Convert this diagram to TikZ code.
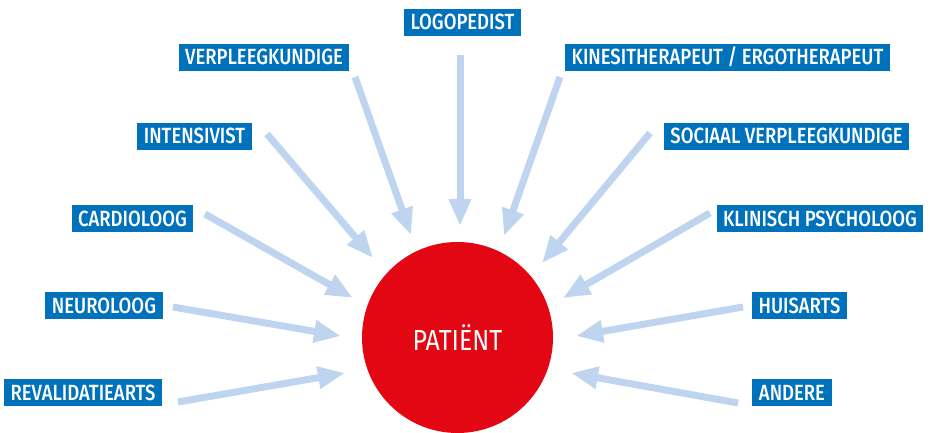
\documentclass[tikz,border=0pt]{standalone}
\usepackage{fontspec}
\setmainfont[FakeStretch=0.84]{Fira Sans Medium}
\newfontfamily\patfont[FakeStretch=0.86]{Fira Sans}
\usetikzlibrary{arrows.meta}
\definecolor{boxblue}{RGB}{0,114,188}
\definecolor{arrowblue}{RGB}{190,212,239}
\definecolor{patred}{RGB}{227,6,19}
\tikzset{
  lbl/.style={fill=boxblue, text=white, font=\fontsize{22}{24}\selectfont,
    inner xsep=6.5pt, inner ysep=0pt, minimum height=27pt, text height=15pt, text depth=0pt},
  conn/.style={draw=arrowblue, line width=7pt, -{Triangle[width=21pt,length=27pt]}}
}
\begin{document}
\begin{tikzpicture}[x=1pt,y=-1pt]
\useasboundingbox (0,0) rectangle (930,433);
\node[circle, fill=patred, minimum size=191pt, inner sep=0pt, text=white,
  font=\patfont\fontsize{29}{31}\selectfont] (pat) at (457.5,337.5) {PATIËNT};

\node[lbl] (logo) at (462.5,22.5) {LOGOPEDIST};
\node[lbl] (verp) at (264,57.5) {VERPLEEGKUNDIGE};
\node[lbl] (kine) at (727.5,57.5) {KINESITHERAPEUT / ERGOTHERAPEUT};
\node[lbl] (inte) at (194.5,136.5) {INTENSIVIST};
\node[lbl] (soci) at (786.5,136.5) {SOCIAAL VERPLEEGKUNDIGE};
\node[lbl] (card) at (132.5,218.5) {CARDIOLOOG};
\node[lbl] (klin) at (820,218.5) {KLINISCH PSYCHOLOOG};
\node[lbl] (neur) at (104,305.5) {NEUROLOOG};
\node[lbl] (huis) at (799.5,305.5) {HUISARTS};
\node[lbl] (reva) at (83,392.5) {REVALIDATIEARTS};
\node[lbl] (ande) at (792,392.5) {ANDERE};

\coordinate (logoS) at (460,55);  \coordinate (logoE) at (460,226);
\coordinate (verpS) at (355,77);  \coordinate (verpE) at (411,235);
\coordinate (kineS) at (560,77);  \coordinate (kineE) at (504,236);
\coordinate (inteS) at (267,134); \coordinate (inteE) at (373,258);
\coordinate (sociS) at (650,133); \coordinate (sociE) at (542,263);
\coordinate (cardS) at (205,214); \coordinate (cardE) at (353,298);
\coordinate (klinS) at (710,213); \coordinate (klinE) at (563,298);
\coordinate (neurS) at (173,307); \coordinate (neurE) at (341,336);
\coordinate (huisS) at (743,307); \coordinate (huisE) at (576,336);
\coordinate (revaS) at (178,402); \coordinate (revaE) at (345,373);
\coordinate (andeS) at (738,403); \coordinate (andeE) at (571,373);

\foreach \n in {logo,verp,kine,inte,soci,card,klin,neur,huis,reva,ande}
  \draw[conn] (\n S) -- (\n E);
\end{tikzpicture}
\end{document}
